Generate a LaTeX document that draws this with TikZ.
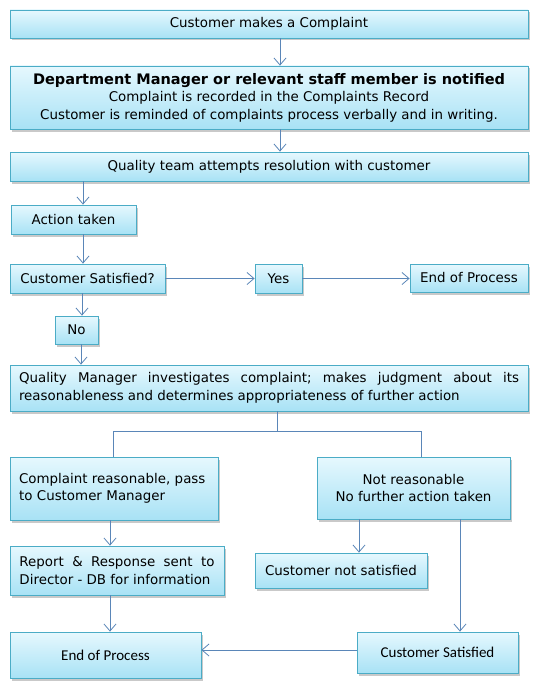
\documentclass[tikz,border=0pt]{standalone}
\usepackage{fontspec}
\setmainfont{DejaVu Sans}
\newfontfamily\calfont{Carlito}
\usetikzlibrary{arrows.meta,shadows}
\frenchspacing
\definecolor{bordc}{HTML}{4BACC6}
\definecolor{linec}{HTML}{5A86B8}
\definecolor{topc}{HTML}{E6F8FE}
\definecolor{botc}{HTML}{A8E2F5}
\tikzset{
  box/.style={draw=bordc, line width=0.8pt, top color=topc, bottom color=botc,
    inner sep=0pt, font=\frenchspacing\fontsize{13.4}{17.5}\selectfont,
    drop shadow={shadow xshift=2pt, shadow yshift=-2.5pt, opacity=0.35, fill=black!60}},
  conn/.style={draw=linec, line width=0.8pt},
  arr/.style={conn, -{Straight Barb[length=7pt,width=12pt,line width=0.8pt]}}
}
\begin{document}
\begin{tikzpicture}[x=1pt,y=-1pt]
\useasboundingbox[fill=white] (0,0) rectangle (550,682);
% nodes
\node[box, minimum width=518, minimum height=28] (n1) at (269,24) {Customer makes a Complaint};
\node[box, minimum width=518, minimum height=63, align=center] (n2) at (269,97.5)
  {{\fontsize{14.5}{17.5}\selectfont\bfseries Department Manager or relevant staff member is notified}\\
   Complaint is recorded in the Complaints Record\\
   Customer is reminded of complaints process verbally and in writing.};
\node[box, minimum width=518, minimum height=29] (n3) at (269,166.5) {Quality team attempts resolution with customer};
\node[box, minimum width=125, minimum height=29] (n4) at (73.5,219.5) {Action taken};
\node[box, minimum width=155, minimum height=29] (n5) at (87.5,278.5) {Customer Satisfied?};
\node[box, minimum width=47, minimum height=29] (n6) at (278.5,278.5) {Yes};
\node[box, minimum width=118, minimum height=28] (n7) at (469,278) {End of Process};
\node[box, minimum width=43, minimum height=28] (n8) at (76.5,330) {No};
\node[box, minimum width=518, minimum height=46, text width=500, align=justify] (n9) at (269,388)
  {Quality Manager investigates complaint; makes judgment about its\linebreak reasonableness and determines appropriateness of further action};
\node[box, minimum width=208, minimum height=63, text width=190, align=left] (n10) at (114,488.5)
  {Complaint reasonable, pass\\to Customer Manager\\[-6pt]};
\node[box, minimum width=193, minimum height=62, align=center] (n11) at (413.5,488)
  {Not reasonable\\No further action taken};
\node[box, minimum width=214, minimum height=49, text width=195, align=justify] (n12) at (117,570.5)
  {Report \& Response sent to\linebreak Director - DB for information};
\node[box, minimum width=172, minimum height=35] (n13) at (341,570.5) {Customer not satisfied};
\node[box, minimum width=191, minimum height=46, font=\calfont\fontsize{15}{17}\selectfont] (n14) at (105.5,655) {End of Process};
\node[box, minimum width=161, minimum height=41, font=\calfont\fontsize{15}{17}\selectfont] (n15) at (437.5,652.5) {Customer Satisfied};
% column coordinates
\coordinate (c280) at (280,0);
\coordinate (c83) at (83,0);
\coordinate (c82) at (82,0);
\coordinate (c81) at (81,0);
\coordinate (c277) at (277,0);
\coordinate (c113) at (113,0);
\coordinate (c421) at (421,0);
\coordinate (c110) at (110,0);
\coordinate (c359) at (359,0);
\coordinate (c460) at (460,0);
\coordinate (ybr) at (0,431);
\coordinate (y650) at (0,650);
% connectors
\draw[arr] (c280 |- n1.south) -- (c280 |- n2.north);
\draw[arr] (c280 |- n2.south) -- (c280 |- n3.north);
\draw[arr] (c83 |- n3.south) -- (c83 |- n4.north);
\draw[arr] (c83 |- n4.south) -- (c83 |- n5.north);
\draw[arr] (n5.east) -- (n6.west);
\draw[arr] (n6.east) -- (n7.west |- n6.east);
\draw[arr] (c82 |- n5.south) -- (c82 |- n8.north);
\draw[arr] (c81 |- n8.south) -- (c81 |- n9.north);
\draw[conn] (c277 |- n9.south) -- (c277 |- ybr);
\draw[conn] (c113 |- n10.north) -- (c113 |- ybr) -- (c421 |- ybr) -- (c421 |- n11.north);
\draw[arr] (c110 |- n10.south) -- (c110 |- n12.north);
\draw[arr] (c110 |- n12.south) -- (c110 |- n14.north);
\draw[arr] (c359 |- n11.south) -- (c359 |- n13.north);
\draw[arr] (c460 |- n11.south) -- (c460 |- n15.north);
\draw[arr] (n15.west |- y650) -- (n14.east |- y650);
\end{tikzpicture}
\end{document}
